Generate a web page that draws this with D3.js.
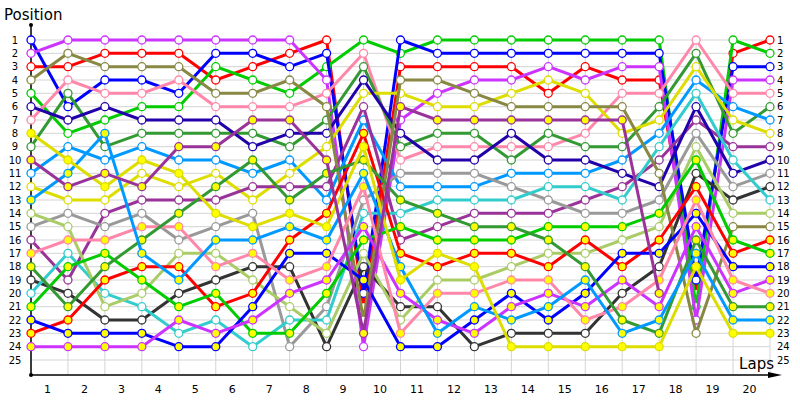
<!DOCTYPE html>
<html>
<head>
<meta charset="utf-8">
<script src="https://cdn.jsdelivr.net/npm/d3@7"></script>
<style>
  body { margin: 0; background: #fff; }
  text { font-family: "DejaVu Sans", Verdana, sans-serif; }
</style>
</head>
<body>
<div id="chart"></div>
<script>
// laps 0..20 (0 = grid position)
const laps = [0,1,2,3,4,5,6,7,8,9,10,11,12,13,14,15,16,17,18,19,20];
const lapLabels = ["1","2","3","4","5","6","7","8","9","10","11","12","13","14","15","16","17","18","19","20"];
const posTicks = [1,2,3,4,5,6,7,8,9,10,11,12,13,14,15,16,17,18,19,20,21,22,23,24,25];

// position per lap, first driver of each team (white dots)
const redA    = [3,3,2,2,2,4,3,2,1,21,3,3,3,3,5,3,4,4,20,2,1];
const greenA  = [5,8,7,6,6,3,4,5,3,1,2,1,1,1,1,1,1,1,21,1,2];
const blueA   = [1,6,4,4,5,2,2,3,2,20,1,2,2,2,2,2,2,2,19,3,3];
const violetA = [2,1,1,1,1,1,1,1,4,24,7,5,4,4,3,4,3,3,22,4,4];
const pinkA   = [7,4,5,5,4,6,6,6,5,2,10,9,9,9,9,8,5,5,1,5,5];
const dgreenA = [9,5,9,8,8,8,8,9,7,3,9,8,8,10,8,9,9,6,2,8,6];
const lblueA  = [11,9,10,9,10,10,11,10,13,7,12,12,12,11,11,11,10,8,4,6,7];
const yellowA = [12,13,13,11,12,11,13,11,9,5,5,6,6,5,4,5,8,7,3,7,8];
const purpleA = [16,19,14,13,13,13,12,12,12,6,16,15,14,14,14,13,12,10,7,9,9];
const navyA   = [6,7,6,7,7,7,9,8,8,4,8,10,10,8,10,10,11,12,6,11,10];
const grayA   = [15,14,15,14,16,15,14,24,21,13,11,11,11,12,13,14,14,13,8,12,11];
const blackA  = [19,20,22,22,20,19,18,18,24,18,21,21,24,23,23,23,20,18,11,13,12];
const cyanA   = [20,17,20,21,23,22,24,22,22,14,14,13,13,13,12,12,13,9,5,10,13];
const lolivA  = [14,15,21,20,17,17,19,21,23,17,22,19,19,18,17,17,16,15,9,14,14];
const oliveA  = [4,2,3,3,3,5,5,4,6,22,4,4,5,6,6,6,6,11,23,15,15];

// second driver of each team (yellow dots)
const redB    = [23,22,19,18,18,21,20,16,14,8,17,18,17,17,18,16,18,16,12,17,16];
const greenB  = [21,18,17,19,21,20,23,23,20,16,15,16,16,16,15,15,15,14,10,16,17];
const blueB   = [22,23,23,23,24,24,21,17,17,19,24,24,22,20,22,20,17,17,14,18,18];
const violetB = [24,24,24,24,22,23,22,20,19,15,20,22,23,21,20,21,19,21,15,20,19];
const pinkB   = [17,16,16,15,15,18,17,19,18,12,23,20,20,19,19,22,21,19,13,19,20];
const dgreenB = [18,21,18,16,14,12,10,13,11,10,13,14,15,15,16,18,22,23,16,21,21];
const lblueB  = [13,11,8,17,19,16,16,15,16,11,18,23,21,22,21,19,23,22,17,22,22];
const yellowB = [8,10,12,10,11,14,15,14,15,9,19,17,18,24,24,24,24,24,18,23,23];
const purpleB = [10,12,11,12,9,9,7,7,10,23,6,7,7,7,7,7,7,20];   // out after lap 17

const series = [
  {team:'red', second:false, pos:redA},     {team:'green', second:false, pos:greenA},
  {team:'blue', second:false, pos:blueA},   {team:'violet', second:false, pos:violetA},
  {team:'pink', second:false, pos:pinkA},   {team:'dgreen', second:false, pos:dgreenA},
  {team:'lblue', second:false, pos:lblueA}, {team:'yellow', second:false, pos:yellowA},
  {team:'purple', second:false, pos:purpleA}, {team:'navy', second:false, pos:navyA},
  {team:'gray', second:false, pos:grayA},   {team:'black', second:false, pos:blackA},
  {team:'cyan', second:false, pos:cyanA},   {team:'loliv', second:false, pos:lolivA},
  {team:'olive', second:false, pos:oliveA},
  {team:'red', second:true, pos:redB},      {team:'green', second:true, pos:greenB},
  {team:'blue', second:true, pos:blueB},    {team:'violet', second:true, pos:violetB},
  {team:'pink', second:true, pos:pinkB},    {team:'dgreen', second:true, pos:dgreenB},
  {team:'lblue', second:true, pos:lblueB},  {team:'yellow', second:true, pos:yellowB},
  {team:'purple', second:true, pos:purpleB}
];

const teamColor = {
  red:'#ff0000', green:'#00cc00', blue:'#0000ff', violet:'#cc33ff', pink:'#ff88aa',
  dgreen:'#339933', lblue:'#0099ff', yellow:'#dddd00', purple:'#993399', navy:'#2200aa',
  gray:'#999999', black:'#333333', cyan:'#33cccc', loliv:'#aacc66', olive:'#888844'
};

const W = 800, H = 400;
const svg = d3.select('#chart').append('svg').attr('width', W).attr('height', H);

const x = d3.scaleLinear().domain([0, 20]).range([31, 770]);
const y = d3.scaleLinear().domain([1, 25]).range([40, 360]);
const axisY = 375;

// grid
svg.append('g').selectAll('line').data(posTicks).join('line')
   .attr('x1', x(0)).attr('x2', x(20))
   .attr('y1', d => y(d)).attr('y2', d => y(d))
   .attr('stroke', '#d4d4d4').attr('stroke-width', 1);
svg.append('g').selectAll('line').data(laps).join('line')
   .attr('x1', d => x(d)).attr('x2', d => x(d))
   .attr('y1', y(1)).attr('y2', axisY)
   .attr('stroke', '#d4d4d4').attr('stroke-width', 1);

// position labels both sides
svg.append('g').selectAll('text').data(posTicks).join('text')
   .attr('x', 15).attr('y', d => y(d)).attr('dy', '0.35em')
   .attr('text-anchor', 'middle').attr('font-size', 10).text(d => d);
svg.append('g').selectAll('text').data(posTicks).join('text')
   .attr('x', 777).attr('y', d => y(d)).attr('dy', '0.35em')
   .attr('font-size', 10).text(d => d);

// lap labels, between grid lines
svg.append('g').selectAll('text').data(lapLabels).join('text')
   .attr('x', (d, i) => x(i + 0.5) - 2).attr('y', 389).attr('dy', '0.35em')
   .attr('text-anchor', 'middle').attr('font-size', 11).text(d => d);

// axes
svg.append('line').attr('x1', x(0)).attr('x2', x(0)).attr('y1', 25).attr('y2', axisY)
   .attr('stroke', '#000').attr('stroke-width', 1.5);
svg.append('circle').attr('cx', x(0)).attr('cy', 25).attr('r', 2).attr('fill', '#000');
svg.append('line').attr('x1', x(0)).attr('x2', 772).attr('y1', axisY).attr('y2', axisY)
   .attr('stroke', '#000').attr('stroke-width', 1.5);
svg.append('path').attr('d', `M768,${axisY-3}L782,${axisY}L768,${axisY+3}Z`).attr('fill', '#000');
svg.append('circle').attr('cx', x(0)).attr('cy', axisY).attr('r', 2).attr('fill', '#000');

svg.append('text').attr('x', 4).attr('y', 20).attr('font-size', 15).text('Position');
svg.append('text').attr('x', 774).attr('y', 369).attr('text-anchor', 'end')
   .attr('font-size', 15).text('Laps');

// driver lines + dots
const line = d3.line().x((d, i) => x(laps[i])).y(d => y(d));
const g = svg.append('g');
series.forEach(s => {
  const c = teamColor[s.team];
  g.append('path').datum(s.pos).attr('d', line)
   .attr('fill', 'none').attr('stroke', c).attr('stroke-width', 3)
   .attr('stroke-linejoin', 'round');
  g.append('g').selectAll('circle').data(s.pos).join('circle')
   .attr('cx', (d, i) => x(laps[i])).attr('cy', d => y(d)).attr('r', 4)
   .attr('fill', s.second ? '#ffff00' : '#fff')
   .attr('stroke', c).attr('stroke-width', 1.3);
});
</script>
</body>
</html>
